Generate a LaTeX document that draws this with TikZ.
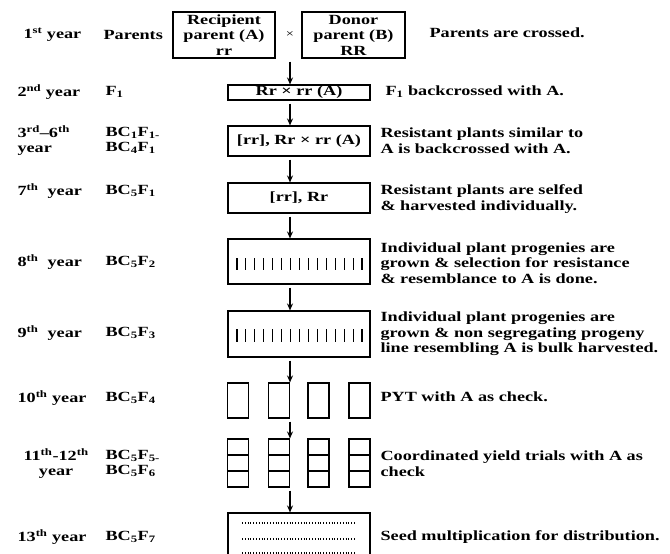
\documentclass[tikz,border=0pt]{standalone}
\usepackage{fontspec}
\setmainfont{Liberation Serif}[FakeStretch=1.3]
\usetikzlibrary{arrows.meta}

\begin{document}
\begin{tikzpicture}[
    x=1pt, y=-1pt,
    >={Stealth[length=7pt,width=6pt]},
    line width=1.1pt,
    font=\fontsize{14}{15.5}\selectfont\bfseries,
    box/.style={draw, inner sep=0pt, align=center},
    txt/.style={anchor=west, inner sep=0pt, align=left},
    flow/.style={->, shorten <=3pt}
]
\useasboundingbox (0,0) rectangle (670,554);

% Parents
\node[box, minimum width=102, minimum height=46] (recip) at (224,35)
    {Recipient\\parent (A)\\rr};
\node[box, minimum width=103, minimum height=46] (donor) at (353.5,35)
    {Donor\\parent (B)\\RR};
\node[inner sep=0pt, font=\fontsize{11}{11}\selectfont\mdseries] (cross) at (290,35) {×};

% Backcross boxes
\node[box, minimum width=142, minimum height=15] (fone) at (299,92.5)
    {Rr × rr (A)};
\node[box, minimum width=142, minimum height=30] (bcone) at (299,141)
    {[rr], Rr × rr (A)};
\node[box, minimum width=142, minimum height=30] (bcfive) at (299,198)
    {[rr], Rr};
\node[box, minimum width=142, minimum height=45] (prog) at (299,261.5) {};
\node[box, minimum width=142, minimum height=46] (bulk) at (299,334) {};

% Progeny rows
\foreach \x in {0,...,14} {
    \draw (237+\x*8.93,258) -- ++(0,12);
    \draw (237+\x*8.93,329) -- ++(0,13);
}

% Yield trial plots
\foreach \x [count=\i] in {238,279,318.5,359.5} {
    \node[box, minimum width=21, minimum height=35] (pyt\i) at (\x,400.5) {};
    \node[box, minimum width=21, minimum height=48] (cyt\i) at (\x,463) {};
    \draw (cyt\i.west |- 0,455) -- (cyt\i.east |- 0,455);
    \draw (cyt\i.west |- 0,471) -- (cyt\i.east |- 0,471);
}

% Seed multiplication
\node[box, minimum width=142, minimum height=54] (seed) at (299,540) {};
\foreach \y in {523,539,553} {
    \draw[line width=1.2pt, dash pattern=on 1pt off 1.8pt] (242,\y) -- (356,\y);
}

% Arrows
\draw[flow] (cross |- recip.south) -- (cross |- fone.north);
\draw[flow] (cross |- fone.south) -- (cross |- bcone.north);
\draw[flow] (cross |- bcone.south) -- (cross |- bcfive.north);
\draw[flow] (cross |- bcfive.south) -- (cross |- prog.north);
\draw[flow] (cross |- prog.south) -- (cross |- bulk.north);
\draw[flow] (cross |- bulk.south) -- (cross |- pyt2.north);
\draw[flow] (cross |- pyt2.south) -- (cross |- cyt2.north);
\draw[flow] (cross |- cyt2.south) -- (cross |- seed.north);

% Years
\node[txt] (y1) at (23,35) {1\textsuperscript{st} year};
\node[txt] (y2) at (17,92) {2\textsuperscript{nd} year};
\node[txt] (y3) at (17,140.5) {3\textsuperscript{rd}--6\textsuperscript{th}\\year};
\node[txt] (y7) at (17,191) {7\textsuperscript{th}\ \ year};
\node[txt] (y8) at (17,262) {8\textsuperscript{th}\ \ year};
\node[txt] (y9) at (17,333) {9\textsuperscript{th}\ \ year};
\node[txt] (y10) at (17,398) {10\textsuperscript{th} year};
\node[txt, align=center] (y11) at (23,463.5) {11\textsuperscript{th}-12\textsuperscript{th}\\year};
\node[txt] (y13) at (17,537) {13\textsuperscript{th} year};

% Generations
\node[txt] (g1) at (103,35) {Parents};
\node[txt] (g2) at (105,92) {F\textsubscript{1}};
\node[txt] (g3) at (105,140.5) {BC\textsubscript{1}F\textsubscript{1-}\\BC\textsubscript{4}F\textsubscript{1}};
\node[txt] (g7) at (105,191) {BC\textsubscript{5}F\textsubscript{1}};
\node[txt] (g8) at (105,262) {BC\textsubscript{5}F\textsubscript{2}};
\node[txt] (g9) at (105,333) {BC\textsubscript{5}F\textsubscript{3}};
\node[txt] (g10) at (105,398) {BC\textsubscript{5}F\textsubscript{4}};
\node[txt] (g11) at (105,463.5) {BC\textsubscript{5}F\textsubscript{5-}\\BC\textsubscript{5}F\textsubscript{6}};
\node[txt] (g13) at (105,537) {BC\textsubscript{5}F\textsubscript{7}};

% Remarks
\node[txt] (r1) at (429,33) {Parents are crossed.};
\node[txt] (r2) at (385,92) {F\textsubscript{1} backcrossed with A.};
\node[txt] (r3) at (380,140.5) {Resistant plants similar\ to\\A is backcrossed with A.};
\node[txt] (r7) at (380,199) {Resistant plants are selfed\\\& harvested individually.};
\node[txt] (r8) at (380,263) {Individual plant progenies are\\grown \& selection for resistance\\\& resemblance to A is done.};
\node[txt] (r9) at (380,334) {Individual plant progenies are\\grown \& non segregating progeny\\line resembling A is bulk harvested.};
\node[txt] (r10) at (380,397) {PYT with A as check.};
\node[txt] (r11) at (380,463.5) {Coordinated yield trials with A as\\check};
\node[txt] (r13) at (380,537) {Seed multiplication for distribution.};
\end{tikzpicture}
\end{document}
